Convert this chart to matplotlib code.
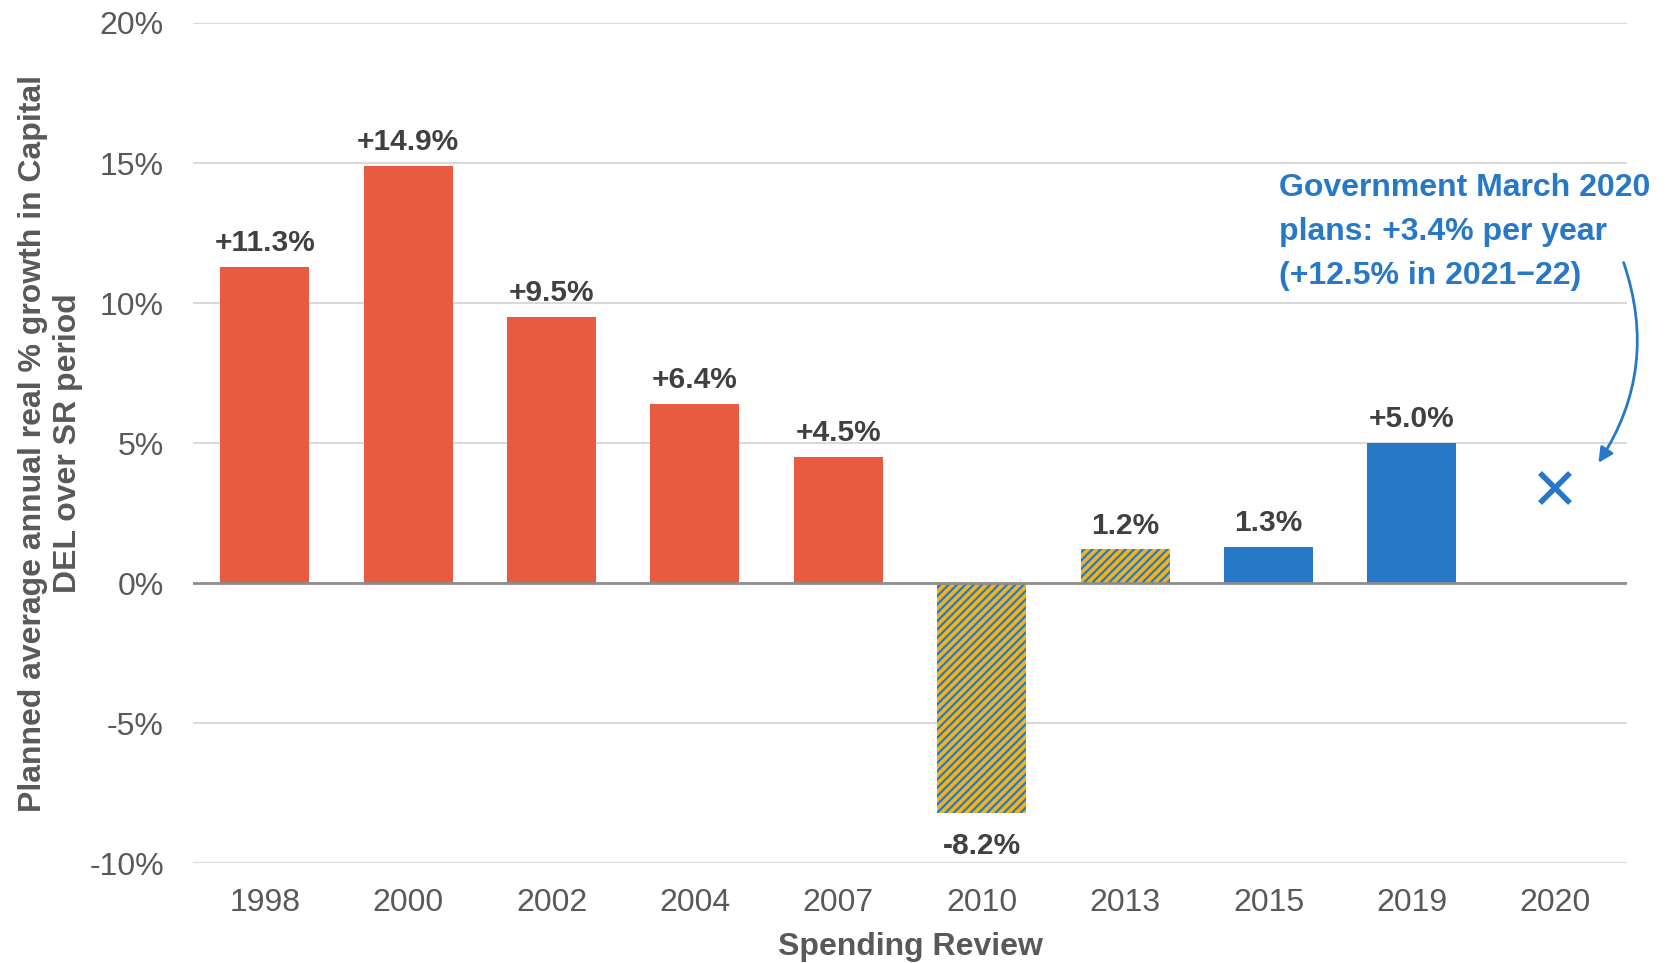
import matplotlib
matplotlib.use("Agg")
import matplotlib.pyplot as plt
import numpy as np
from matplotlib.patches import FancyArrowPatch

plt.rcParams['font.family'] = ['Liberation Sans', 'DejaVu Sans']
plt.rcParams['hatch.linewidth'] = 1.6

# data
reviews = ['1998', '2000', '2002', '2004', '2007', '2010', '2013', '2015', '2019', '2020']
growth = [11.3, 14.9, 9.5, 6.4, 4.5, -8.2, 1.2, 1.3, 5.0, np.nan]
labels = ['+11.3%', '+14.9%', '+9.5%', '+6.4%', '+4.5%', '-8.2%', '1.2%', '1.3%', '+5.0%', '']
kind = ['red', 'red', 'red', 'red', 'red', 'hatch', 'hatch', 'blue', 'blue', 'none']
plan_2020 = 3.4

RED = '#E95B41'
BLUE = '#2878C8'
YELLOW = '#F2B31B'
GREY = '#595959'

fig = plt.figure(figsize=(16.67, 9.63), dpi=100)
ax = fig.add_axes([193/1667, 1 - 863/963, (1627-193)/1667, (863-23)/963])

x = np.arange(len(reviews))
for i, (v, k) in enumerate(zip(growth, kind)):
    if k == 'none':
        continue
    if k == 'hatch':
        ax.bar(x[i], v, width=0.62, color=YELLOW, edgecolor=BLUE, hatch='////',
               linewidth=0, zorder=3)
    else:
        ax.bar(x[i], v, width=0.62, color=RED if k == 'red' else BLUE,
               linewidth=0, zorder=3)
    off = 17 if v >= 0 else -24
    ax.annotate(labels[i], (x[i], v), xytext=(0, off), textcoords='offset points',
                ha='center', va='center', fontsize=21.5, fontweight='bold',
                color='#404040')

# 2020 plan marker
ax.plot(x[9], plan_2020, marker='x', markersize=21, markeredgewidth=4,
        color=BLUE, linestyle='none', zorder=4)

ax.set_xlim(-0.5, 9.5)
ax.set_ylim(-10, 20)
ax.set_yticks([-10, -5, 0, 5, 10, 15, 20])
ax.set_yticklabels(['-10%', '-5%', '0%', '5%', '10%', '15%', '20%'])
ax.set_xticks(x)
ax.set_xticklabels(reviews)
ax.tick_params(axis='both', length=0, labelsize=23, colors=GREY)
ax.tick_params(axis='y', pad=21)
ax.tick_params(axis='x', pad=18)

for gy in [-10, -5, 5, 10, 15, 20]:
    ax.axhline(gy, color='#D9D9D9', linewidth=1.5, zorder=1)
ax.axhline(0, color='#8C8C8C', linewidth=2, zorder=4)

for s in ax.spines.values():
    s.set_visible(False)

ax.set_ylabel('Planned average annual real % growth in Capital\nDEL over SR period',
              fontsize=23, fontweight='bold', color=GREY, multialignment='center')
ax.yaxis.set_label_coords(-0.077, 0.5)
ax.set_xlabel('Spending Review', fontsize=23, fontweight='bold', color=GREY)
ax.xaxis.set_label_coords(0.5, -0.082)

ax.text(7.07, 12.54, 'Government March 2020\nplans: +3.4% per year\n(+12.5% in 2021\u221222)',
        ha='left', va='center', fontsize=23, fontweight='bold', color=BLUE,
        linespacing=1.62)

arrow = FancyArrowPatch((9.47, 11.54), (9.29, 4.21),
                        connectionstyle='arc3,rad=-0.25', arrowstyle='-|>',
                        mutation_scale=22, color=BLUE, linewidth=2, zorder=5,
                        clip_on=False)
ax.add_patch(arrow)

fig.savefig('out.png', dpi=100)
